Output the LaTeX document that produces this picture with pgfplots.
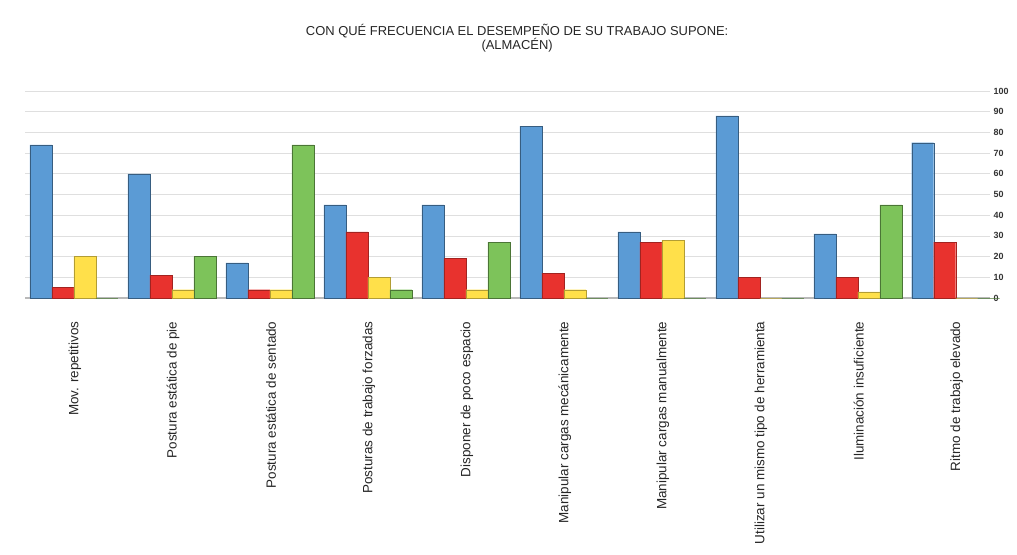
\documentclass[border=0pt]{standalone}
\usepackage{pgfplots}
\pgfplotsset{compat=1.18}
\usepackage{fontspec}
\setmainfont{Liberation Sans}
\definecolor{cblue}{HTML}{5B9BD5}
\definecolor{cred}{HTML}{E8322E}
\definecolor{cyel}{HTML}{FFE04A}
\definecolor{cgreen}{HTML}{7DC35A}
\begin{document}
\begin{tikzpicture}
\useasboundingbox (0,0) rectangle (1017bp,555bp);
\begin{axis}[
  at={(25bp,257bp)}, anchor=south west,
  scale only axis, width=965bp, height=207bp,
  ymin=0, ymax=100, xmin=-0.5, xmax=9.35,
  ybar=0pt, bar width=22bp,
  ytick={0,10,...,100},
  axis x line*=bottom,
  axis y line*=right,
  y axis line style={draw=none},
  x axis line style={gray!55, line width=2.5pt, -},
  yticklabel style={font=\fontsize{9}{10}\selectfont\bfseries, text=black!80, xshift=0bp},
  /pgf/number format/assume math mode=true,
  ymajorgrids, grid style={gray!25, line width=0.8pt},
  xtick=data, major tick length=0pt,
  xticklabels={Mov. repetitivos, Postura estática de pie, Postura estática de sentado, Posturas de trabajo forzadas, Disponer de poco espacio, Manipular cargas mecánicamente, Manipular cargas manualmente, Utilizar un mismo tipo de herramienta, Iluminación insuficiente, Ritmo de trabajo elevado},
  xticklabel style={rotate=90, anchor=east, font=\fontsize{13.5}{15}\selectfont, text=black!85, yshift=-1bp, xshift=-20bp},
  title={CON QUÉ FRECUENCIA EL DESEMPEÑO DE SU TRABAJO SUPONE:\\(ALMACÉN)},
  title style={at={(axis description cs:0.51,1.14)}, anchor=south, align=center, font=\fontsize{13}{14.5}\selectfont, text=black!85},
  clip=false,
]
\addplot[fill=cblue, draw=cblue!60!black] coordinates {(0,74) (1,60) (2,17) (3,45) (4,45) (5,83) (6,32) (7,88) (8,31) (9,75)};
\addplot[fill=cred, draw=cred!70!black] coordinates {(0,5) (1,11) (2,4) (3,32) (4,19) (5,12) (6,27) (7,10) (8,10) (9,27)};
\addplot[fill=cyel, draw=cyel!70!black] coordinates {(0,20) (1,4) (2,4) (3,10) (4,4) (5,4) (6,28) (7,0) (8,3) (9,0)};
\addplot[fill=cgreen, draw=cgreen!60!black] coordinates {(0,0) (1,20) (2,74) (3,4) (4,27) (5,0) (6,0) (7,0) (8,45) (9,0)};
\end{axis}
\end{tikzpicture}
\end{document}
